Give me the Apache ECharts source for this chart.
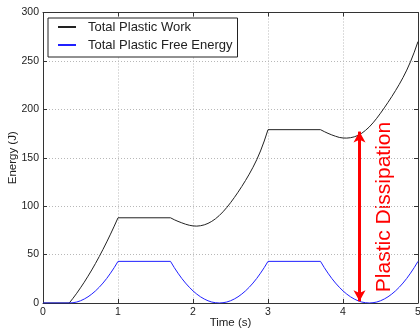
<!DOCTYPE html>
<html>
<head>
<meta charset="utf-8">
<script src="https://cdn.jsdelivr.net/npm/echarts@6/dist/echarts.min.js"></script>
<style>html,body{margin:0;padding:0;background:#fff}#c{width:420px;height:328px}</style>
</head>
<body>
<div id="c"></div>
<script>
var seriesNames = ['Total Plastic Work', 'Total Plastic Free Energy'];
var time = [0, 0.35, 0.40, 0.45, 0.50, 0.55, 0.60, 0.65, 0.70, 0.75, 0.80, 0.85, 0.90, 0.95, 1.00,
  1.70, 1.75, 1.80, 1.85, 1.90, 1.95, 2.00, 2.05, 2.10, 2.15, 2.20, 2.25, 2.30, 2.35, 2.40, 2.45, 2.50, 2.55, 2.60, 2.65, 2.70, 2.75, 2.80, 2.85, 2.90, 2.95, 3.00,
  3.70, 3.75, 3.80, 3.85, 3.90, 3.95, 4.00, 4.05, 4.10, 4.15, 4.20, 4.25, 4.30, 4.35, 4.40, 4.45, 4.50, 4.55, 4.60, 4.65, 4.70, 4.75, 4.80, 4.85, 4.90, 4.95, 5.00];
var plasticWork = [0, 0, 4.9, 10.1, 15.7, 21.5, 27.7, 34.1, 40.9, 48.0, 55.4, 63.1, 71.1, 79.4, 88.0,
  88.0, 86.0, 84.3, 82.8, 81.4, 80.3, 79.6, 79.4, 79.8, 80.7, 82.2, 84.3, 87.0, 90.3, 94.2, 98.6, 103.5, 108.8, 114.4, 120.3, 126.5, 133.1, 140.2, 148.0, 157.0, 167.3, 179.0,
  179.0, 177.0, 175.2, 173.6, 172.2, 171.0, 170.4, 170.3, 170.7, 171.6, 173.1, 175.3, 178.3, 181.8, 186.0, 190.8, 196.0, 201.5, 207.2, 213.1, 219.3, 225.8, 232.8, 240.5, 249.2, 259.0, 270.0];
var freeEnergy = [0, 0, 0.3, 1.0, 2.3, 4.1, 6.4, 9.2, 12.5, 16.3, 20.6, 25.4, 30.8, 36.6, 43.0,
  43.0, 36.6, 30.8, 25.4, 20.6, 16.3, 12.5, 9.2, 6.4, 4.1, 2.3, 1.0, 0.3, 0, 0.3, 1.0, 2.3, 4.1, 6.4, 9.2, 12.5, 16.3, 20.6, 25.4, 30.8, 36.6, 43.0,
  43.0, 36.6, 30.8, 25.4, 20.6, 16.3, 12.5, 9.2, 6.4, 4.1, 2.3, 1.0, 0.3, 0, 0.3, 1.0, 2.3, 4.1, 6.4, 9.2, 12.5, 16.3, 20.6, 25.4, 30.8, 36.6, 43.0];
var xRange = [0, 5], xStep = 1;
var yRange = [0, 300], yStep = 50;
var arrowTime = 4.22, arrowFrom = 1.8, arrowTo = 177;
var pointerLine = [[4.82, 99.6], [5.04, 93.6]];
var annotationText = 'Plastic Dissipation';

function pairs(xs, ys) { return xs.map(function (x, i) { return [x, ys[i]]; }); }

var FONT = '"Liberation Sans", Arial, sans-serif';
var chart = echarts.init(document.getElementById('c'), null, {renderer: 'canvas'});
var splitLine = {show: true, lineStyle: {color: '#b8b8b8', type: [1, 2], width: 1}};
var frameLine = {show: true, onZero: false, lineStyle: {color: '#333', width: 1}};
var ticks = {show: true, inside: true, length: 4, lineStyle: {color: '#333'}};
chart.setOption({
  animation: false,
  grid: {left: 43, right: 2, top: 12.5, bottom: 25, outerBoundsMode: 'none', containLabel: false, show: false},
  legend: {
    orient: 'vertical', left: 48, top: 18,
    data: seriesNames,
    backgroundColor: '#fff', borderColor: '#222', borderWidth: 1, borderRadius: 0,
    padding: [2, 5, 5, 9], itemGap: 4, itemWidth: 18, itemHeight: 14,
    itemStyle: {opacity: 0},
    textStyle: {fontFamily: FONT, fontSize: 13, color: '#222', lineHeight: 14, padding: [0, 0, 0, 7]}
  },
  xAxis: [{
    type: 'value', min: xRange[0], max: xRange[1], interval: xStep,
    name: 'Time (s)', nameLocation: 'middle', nameGap: 14, nameMoveOverlap: false,
    nameTextStyle: {fontFamily: FONT, fontSize: 11.5, color: '#222'},
    axisLine: frameLine, axisTick: ticks,
    axisLabel: {fontFamily: FONT, fontSize: 10.5, color: '#222', margin: 4},
    splitLine: splitLine
  }, {
    type: 'value', position: 'top', min: xRange[0], max: xRange[1], interval: xStep,
    axisLine: frameLine, axisLabel: {show: false}, splitLine: {show: false}, axisTick: ticks
  }],
  yAxis: [{
    type: 'value', min: yRange[0], max: yRange[1], interval: yStep,
    name: 'Energy (J)', nameLocation: 'middle', nameGap: 24, nameRotate: 90, nameMoveOverlap: false,
    nameTextStyle: {fontFamily: FONT, fontSize: 11.5, color: '#222'},
    axisLine: frameLine, axisTick: ticks,
    axisLabel: {fontFamily: FONT, fontSize: 10.5, color: '#222', margin: 4},
    splitLine: splitLine
  }, {
    type: 'value', position: 'right', min: yRange[0], max: yRange[1], interval: yStep,
    axisLine: frameLine, axisLabel: {show: false}, splitLine: {show: false}, axisTick: ticks
  }],
  series: [{
    name: seriesNames[0], type: 'line', data: pairs(time, plasticWork),
    symbol: 'none', clip: false,
    lineStyle: {color: '#222', width: 1}, itemStyle: {color: '#222'},
    emphasis: {disabled: true},
    markLine: {
      silent: true, symbol: ['none', 'none'], label: {show: false},
      lineStyle: {color: '#000', width: 2, type: 'solid'},
      data: [[{coord: pointerLine[0]}, {coord: pointerLine[1]}]]
    }
  }, {
    name: seriesNames[1], type: 'line', data: pairs(time, freeEnergy),
    symbol: 'none',
    lineStyle: {color: '#2020ff', width: 1}, itemStyle: {color: '#2020ff'},
    emphasis: {disabled: true},
    markLine: {
      silent: true, symbol: ['arrow', 'arrow'], symbolSize: [9, 11], label: {show: false},
      lineStyle: {color: '#ff0000', width: 3, type: 'solid'},
      data: [[{coord: [arrowTime, arrowFrom]}, {coord: [arrowTime, arrowTo]}]]
    }
  }],
  graphic: [{
    type: 'text', x: 384, y: 207, rotation: Math.PI / 2, silent: true,
    style: {text: annotationText, fill: '#ff0000', font: '21px ' + FONT, align: 'center', verticalAlign: 'middle'}
  }]
});
</script>
</body>
</html>
